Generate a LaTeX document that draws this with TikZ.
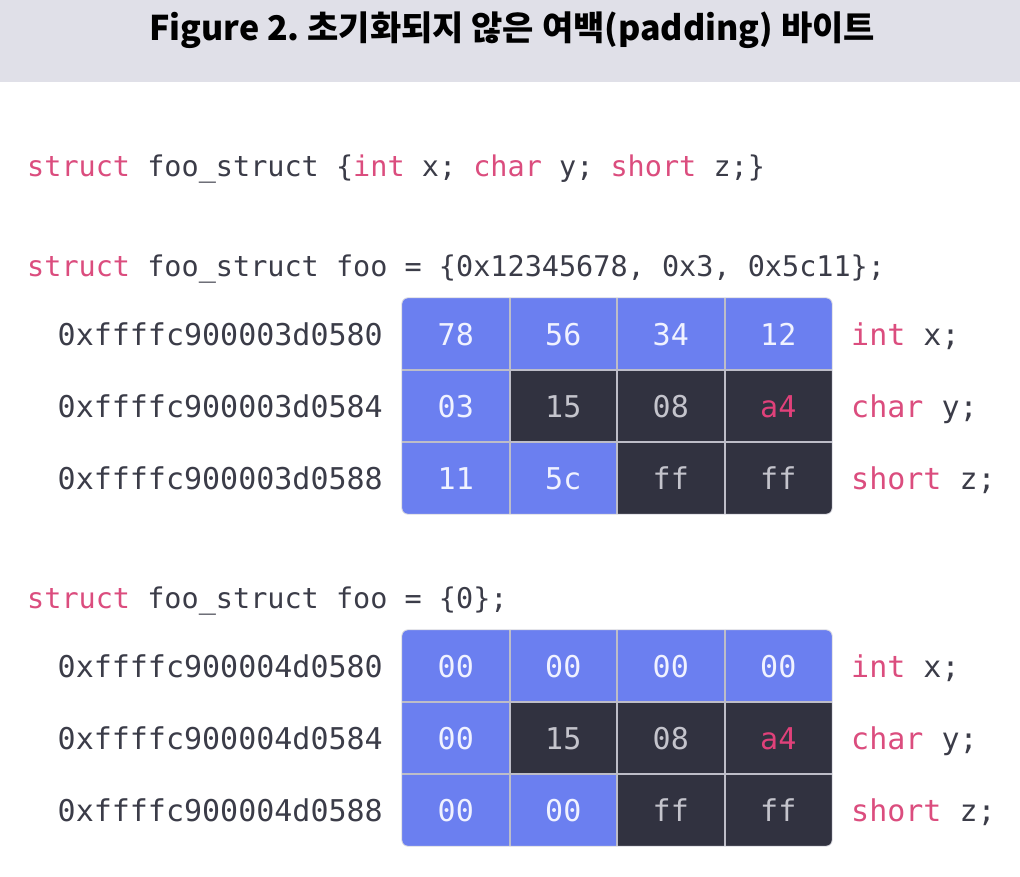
\documentclass[tikz,border=0pt]{standalone}
\usepackage{fontspec}
\newfontfamily\mono{DejaVu Sans Mono}
\newfontfamily\titlefont{Noto Sans CJK KR Black}
\definecolor{titlebg}{HTML}{E0E0E8}
\definecolor{cblue}{HTML}{6B7FF0}
\definecolor{cdark}{HTML}{313240}
\definecolor{cgrid}{HTML}{BDBDC8}
\definecolor{tonblue}{HTML}{F0F2FF}
\definecolor{tondark}{HTML}{C4C4CC}
\definecolor{kw}{HTML}{DB4D7E}
\definecolor{pinkval}{HTML}{E0417A}
\definecolor{txt}{HTML}{3B3C48}
\tikzset{
  codeline/.style={anchor=base west, inner sep=0pt, text=txt, font=\mono\fontsize{28.5}{34}\selectfont},
  addr/.style={anchor=base east, inner sep=0pt, text=txt, font=\mono\fontsize{30}{36}\selectfont},
  member/.style={anchor=base west, inner sep=0pt, text=txt, font=\mono\fontsize{30}{36}\selectfont},
  cell/.style={draw=none, inner sep=0pt, minimum width=107.5pt, minimum height=72pt, text height=22pt, text depth=0pt, font=\mono\fontsize{30}{36}\selectfont},
  bluecell/.style={cell, fill=cblue, text=tonblue},
  darkcell/.style={cell, fill=cdark, text=tondark},
  gridline/.style={draw=cgrid, line width=2pt},
}
\frenchspacing
\begin{document}
\begin{tikzpicture}[x=1pt,y=-1pt]
\useasboundingbox (0,0) rectangle (1020,876);
\fill[titlebg] (0,0) rectangle (1020,82);
\node[inner sep=0pt, anchor=base, font=\titlefont\fontsize{34}{40}\selectfont] (title) at (512,40) {Figure 2. 초기화되지 않은 여백(padding) 바이트};

\node[codeline] (decl) at (27,176) {{\color{kw}struct} foo\_struct \{{\color{kw}int} x; {\color{kw}char} y; {\color{kw}short} z;\}};
\node[codeline] (init1) at (27,276) {{\color{kw}struct} foo\_struct foo = \{0x12345678, 0x3, 0x5c11\};};
\node[codeline] (init2) at (27,608) {{\color{kw}struct} foo\_struct foo = \{0\};};

% ---------- table 1 ----------
\begin{scope}
\clip[rounded corners=6pt] (402,298) rectangle (832,514);
\node[bluecell] (a11) at (455.75,334) {78};
\node[bluecell] (a12) at (563.25,334) {56};
\node[bluecell] (a13) at (670.75,334) {34};
\node[bluecell] (a14) at (778.25,334) {12};
\node[bluecell] (a21) at (455.75,406) {03};
\node[darkcell] (a22) at (563.25,406) {15};
\node[darkcell] (a23) at (670.75,406) {08};
\node[darkcell, text=pinkval] (a24) at (778.25,406) {a4};
\node[bluecell] (a31) at (455.75,478) {11};
\node[bluecell] (a32) at (563.25,478) {5c};
\node[darkcell] (a33) at (670.75,478) {ff};
\node[darkcell] (a34) at (778.25,478) {ff};
\end{scope}
\draw[gridline] (a11.north east) -- (a31.south east);
\draw[gridline] (a12.north east) -- (a32.south east);
\draw[gridline] (a13.north east) -- (a33.south east);
\draw[gridline] (a11.south west) -- (a14.south east);
\draw[gridline] (a21.south west) -- (a24.south east);
\draw[draw=cgrid!60, line width=0.8pt, rounded corners=6pt] (a11.north west) rectangle (a34.south east);

\node[addr] (ad11) at (383,345) {0xffffc900003d0580};
\node[addr] (ad12) at (383,417) {0xffffc900003d0584};
\node[addr] (ad13) at (383,489) {0xffffc900003d0588};
\node[member] (m11) at (851,345) {{\color{kw}int} x;};
\node[member] (m12) at (851,417) {{\color{kw}char} y;};
\node[member] (m13) at (851,489) {{\color{kw}short} z;};

% ---------- table 2 ----------
\begin{scope}
\clip[rounded corners=6pt] (402,630) rectangle (832,846);
\node[bluecell] (b11) at (455.75,666) {00};
\node[bluecell] (b12) at (563.25,666) {00};
\node[bluecell] (b13) at (670.75,666) {00};
\node[bluecell] (b14) at (778.25,666) {00};
\node[bluecell] (b21) at (455.75,738) {00};
\node[darkcell] (b22) at (563.25,738) {15};
\node[darkcell] (b23) at (670.75,738) {08};
\node[darkcell, text=pinkval] (b24) at (778.25,738) {a4};
\node[bluecell] (b31) at (455.75,810) {00};
\node[bluecell] (b32) at (563.25,810) {00};
\node[darkcell] (b33) at (670.75,810) {ff};
\node[darkcell] (b34) at (778.25,810) {ff};
\end{scope}
\draw[gridline] (b11.north east) -- (b31.south east);
\draw[gridline] (b12.north east) -- (b32.south east);
\draw[gridline] (b13.north east) -- (b33.south east);
\draw[gridline] (b11.south west) -- (b14.south east);
\draw[gridline] (b21.south west) -- (b24.south east);
\draw[draw=cgrid!60, line width=0.8pt, rounded corners=6pt] (b11.north west) rectangle (b34.south east);

\node[addr] (ad21) at (383,677) {0xffffc900004d0580};
\node[addr] (ad22) at (383,749) {0xffffc900004d0584};
\node[addr] (ad23) at (383,821) {0xffffc900004d0588};
\node[member] (m21) at (851,677) {{\color{kw}int} x;};
\node[member] (m22) at (851,749) {{\color{kw}char} y;};
\node[member] (m23) at (851,821) {{\color{kw}short} z;};
\end{tikzpicture}
\end{document}
